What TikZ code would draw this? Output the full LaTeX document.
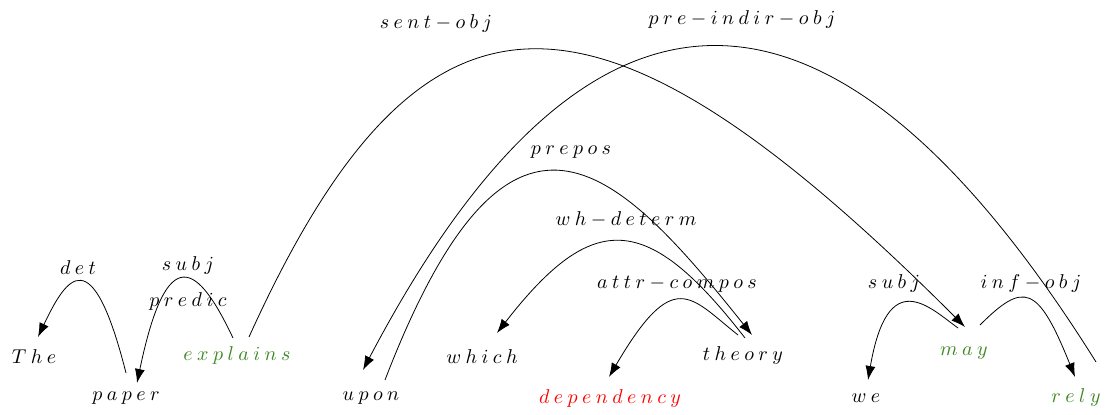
\documentclass[tikz,border=0pt]{standalone}
\usepackage{amsmath, amssymb}
\usepackage{xcolor}
\usepackage{tikz}
\usetikzlibrary{arrows.meta, positioning, calc}

\definecolor{headgreen}{RGB}{60,135,35}

\begin{document}
\begin{tikzpicture}[
x=0.5pt, y=0.5pt,
every node/.style={font=\normalsize},
word/.style={inner sep=1pt},
rel/.style={inner sep=1pt},
dep/.style={-{Latex[length=7pt,width=5pt]}, line width=0.4pt}
]
\useasboundingbox (0,0) rectangle (1106,415);

% words
\node[word] (the) at (34,58) {$T\:h\:e$};
\node[word] (paper) at (126,17) {$p\:a\:p\:e\:r$};
\node[word, text=headgreen] (explains) at (237,59) {$e\:x\:p\:l\:a\:i\:n\:s$};
\node[word] (upon) at (371,17) {$u\:p\:o\:n$};
\node[word] (which) at (482,58) {$w\:h\:i\:c\:h$};
\node[word, text=red] (dependency) at (610,16) {$d\:e\:p\:e\:n\:d\:e\:n\:c\:y$};
\node[word] (theory) at (743,59) {$t\:h\:e\:o\:r\:y$};
\node[word] (we) at (866,17) {$w\:e$};
\node[word, text=headgreen] (may) at (964,62) {$m\:a\:y$};
\node[word, text=headgreen] (rely) at (1076,17) {$r\:e\:l\:y$};

% relation labels
\node[rel] (det) at (78,147) {$d\:e\:t$};
\node[rel] (subj) at (188,149) {$s\:u\:b\:j$};
\node[rel] (predic) at (188,113) {$p\:r\:e\:d\:i\:c$};
\node[rel] (sentobj) at (436,391) {$s\:e\:n\:t - o\:b\:j$};
\node[rel] (preindir) at (742,395) {$p\:r\:e - i\:n\:d\:i\:r - o\:b\:j$};
\node[rel] (prepos) at (571,263) {$p\:r\:e\:p\:o\:s$};
\node[rel] (whdeterm) at (626,196) {$w\:h - d\:e\:t\:e\:r\:m$};
\node[rel] (attr) at (677,131) {$a\:t\:t\:r - c\:o\:m\:p\:o\:s$};
\node[rel] (subjb) at (894,131) {$s\:u\:b\:j$};
\node[rel] (infobj) at (1031,131) {$i\:n\:f - o\:b\:j$};

% arcs
\draw[dep] ($(paper)+(0,25)$) .. controls (92,176) and (67,139) .. ($(the)+(4,20)$);
\draw[dep] ($(explains)+(-4,18)$) .. controls (198,151) and (167,176) .. ($(paper)+(11,15)$);
\draw[dep] ($(explains)+(12,19)$) .. controls (422,460) and (595,458) .. ($(may)+(1,26)$);
\draw[dep] ($(rely)+(20,36)$) .. controls (783,553) and (543,388) .. ($(upon)+(-8,28)$);
\draw[dep] ($(upon)+(14,18)$) .. controls (509,357) and (614,253) .. ($(theory)+(9,21)$);
\draw[dep] ($(theory)+(2,18)$) .. controls (648,202) and (594,207) .. ($(which)+(15,24)$);
\draw[dep] ($(theory)+(-5,21)$) .. controls (690,118) and (674,149) .. ($(dependency)+(-1,22)$);
\draw[dep] ($(may)+(-6,25)$) .. controls (930,107) and (888,151) .. ($(we)+(2,18)$);
\draw[dep] ($(may)+(16,28)$) .. controls (1024,134) and (1038,130) .. ($(rely)+(-1,21)$);

\end{tikzpicture}
\end{document}
